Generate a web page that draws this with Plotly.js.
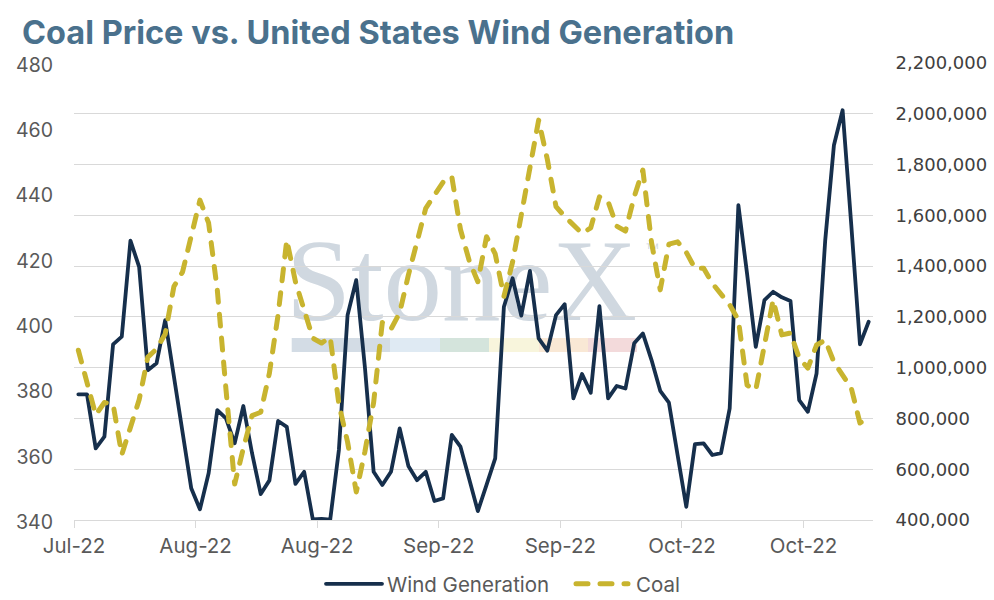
<!DOCTYPE html>
<html><head><meta charset="utf-8">
<script src="https://cdn.plot.ly/plotly-3.0.1.min.js"></script>
<style>
html,body{margin:0;padding:0;background:#fff;}
#chart{width:994px;height:600px;}
.js-line{stroke-linecap:round;stroke-linejoin:round;}
</style></head><body><div id="chart"></div>
<script>
// Daily categories, 25 Jul 2022 onward (92 days)
const startDate = '2022-07-25';
const dayCount = 92;
const dates = [];
for (let i = 0; i < dayCount; i++) {
  const d = new Date(startDate + 'T00:00:00Z');
  d.setUTCDate(d.getUTCDate() + i);
  dates.push(d.toISOString().slice(0, 10));
}

// Wind generation (right axis)
const windGeneration = [
  895000, 895000, 682000, 728000, 1092000, 1122000, 1500000, 1397000, 990000, 1017000,
  1187000, 971000, 754000, 525000, 442000, 584000, 833000, 800000, 702000, 849000,
  663000, 502000, 556000, 790000, 767000, 542000, 590000, 402000, 404000, 401000,
  676000, 1207000, 1345000, 1000000, 590000, 538000, 590000, 761000, 613000, 557000,
  590000, 475000, 485000, 735000, 689000, 557000, 435000, 538000, 643000, 1240000,
  1352000, 1205000, 1381000, 1115000, 1067000, 1207000, 1250000, 879000, 975000, 901000,
  1242000, 879000, 928000, 918000, 1096000, 1135000, 1030000, 909000, 862000, 656000,
  452000, 699000, 702000, 656000, 663000, 840000, 1640000, 1370000, 1082000, 1266000,
  1299000, 1277000, 1263000, 872000, 826000, 977000, 1502000, 1876000, 2014000, 1561000,
  1092000, 1181000
];

// Coal price (left axis)
const coalPrice = [
  392, 382, 372.2, 376, 375.5, 360, 369, 376.8, 389.9, 392.4,
  397, 411.5, 416, 426.5, 438, 431, 410.5, 380, 351, 362,
  372, 373, 385, 402.8, 425.8, 413, 403.7, 395.7, 394.2, 396,
  375.5, 363.9, 348.6, 361, 376, 400.5, 398.5, 403.5, 415, 425,
  435.5, 439.5, 443.5, 445.2, 429, 419.5, 413, 426.8, 421.5, 408.5,
  419, 433.4, 447, 462.5, 450.5, 436, 433, 430.5, 427.8, 429.5,
  439, 437.5, 430, 428.5, 439, 447.2, 425, 410.5, 424.5, 425.2,
  422, 417.1, 417.1, 412.5, 409, 405.9, 401.3, 381.3, 379.8, 394.2,
  407.4, 396.7, 397.3, 389.6, 386.5, 393.6, 395.1, 388.4, 384.4, 380.4,
  369.7, 371.5
];

// Axis tick labels (one every 14 categories)
const tickLabels = ['Jul-22', 'Aug-22', 'Aug-22', 'Sep-22', 'Sep-22', 'Oct-22', 'Oct-22'];
const tickEvery = 14;

const xIdx = dates.map((_, i) => i);
const tickVals = tickLabels.map((_, i) => i * tickEvery - 0.5);

const mainFont = 'Inter, Lato, sans-serif';
const leftTickFont = {family: mainFont, size: 19.5, color: '#595959'};
const xTickFont = {family: mainFont, size: 20.5, color: '#595959'};
const rightTickFont = {family: 'DejaVu Sans, Verdana, sans-serif', size: 18, color: '#404040'};
const gridCol = '#d9d9d9';

const traces = [
  {
    x: xIdx, y: windGeneration, text: dates, name: 'Wind Generation',
    type: 'scatter', mode: 'lines', yaxis: 'y',
    line: {color: '#162f4c', width: 3.8},
    hovertemplate: '%{text}: %{y:,}<extra></extra>'
  },
  {
    x: xIdx, y: coalPrice, text: dates, name: 'Coal',
    type: 'scatter', mode: 'lines', yaxis: 'y2',
    line: {color: '#c8b42f', width: 5, dash: '12px,12px'},
    hovertemplate: '%{text}: %{y}<extra></extra>'
  }
];

function px2paperX(px) { return (px - 74) / 799; }
function px2paperY(py) { return (520 - py) / 457; }

// StoneX watermark (drawn beneath gridlines and data)
const barEdges = [291.7, 390, 440, 489, 539, 588, 637];
const barColors = ['#d3dce5', '#dfeaf3', '#d4e4dc', '#f8f5dc', '#f9e8d5', '#f3dadb'];
const shapes = barColors.map((c, i) => ({
  type: 'rect', xref: 'paper', yref: 'paper', layer: 'below',
  x0: px2paperX(barEdges[i]), x1: px2paperX(barEdges[i + 1]),
  y0: px2paperY(352), y1: px2paperY(338),
  fillcolor: c, line: {width: 0}
}));
shapes.push({
  type: 'rect', xref: 'paper', yref: 'paper', layer: 'below',
  x0: px2paperX(279), x1: px2paperX(644), y0: px2paperY(313), y1: px2paperY(221),
  fillcolor: 'rgba(0,0,0,0)', line: {width: 0},
  label: {text: 'StoneX', textposition: 'middle center',
    font: {family: 'Liberation Serif, serif', size: 117, color: '#d0d8e0'}}
});
shapes.push({
  type: 'rect', xref: 'paper', yref: 'paper', layer: 'below',
  x0: px2paperX(641), x1: px2paperX(663), y0: px2paperY(254), y1: px2paperY(240),
  fillcolor: 'rgba(0,0,0,0)', line: {width: 0},
  label: {text: '™', textposition: 'middle center',
    font: {family: 'Liberation Sans, sans-serif', size: 14, color: '#d0d8e0'}}
});

const layout = {
  width: 994, height: 600,
  paper_bgcolor: '#ffffff', plot_bgcolor: '#ffffff',
  margin: {l: 74, r: 121, t: 63, b: 80, pad: 0},
  title: {
    text: '<b>Coal Price vs. United States Wind Generation</b>',
    x: 22 / 994, xanchor: 'left', xref: 'container',
    y: 1 - 32.3 / 600, yanchor: 'middle', yref: 'container',
    font: {family: mainFont, size: 32.5, color: '#4a718d'}
  },
  showlegend: true,
  legend: {
    orientation: 'h', xref: 'container', yref: 'container',
    x: 503 / 994, xanchor: 'center', y: 1 - 584 / 600, yanchor: 'middle',
    font: {family: mainFont, size: 20.5, color: '#595959'},
    bgcolor: 'rgba(0,0,0,0)', itemwidth: 30, tracegroupgap: 0
  },
  xaxis: {
    range: [-0.5, dayCount - 0.5], tickmode: 'array', tickvals: tickVals, ticktext: tickLabels,
    ticks: 'outside', ticklen: 7, tickcolor: gridCol, tickwidth: 1.3,
    ticklabelstandoff: 2.5, ticklabelshift: 3.5,
    showgrid: false, zeroline: false, showline: true, linecolor: gridCol, linewidth: 1.3,
    tickfont: xTickFont, fixedrange: true
  },
  yaxis: {
    side: 'right', range: [400000, 2200000], dtick: 200000, tick0: 400000,
    tickformat: ',', showgrid: true, gridcolor: gridCol, gridwidth: 1.3,
    zeroline: false, showline: false, ticks: 'outside', ticklen: 18, tickcolor: 'rgba(0,0,0,0)',
    ticklabelshift: 1.5,
    tickfont: rightTickFont, fixedrange: true
  },
  yaxis2: {
    overlaying: 'y', side: 'left', range: [340, 480], dtick: 20, tick0: 340,
    showgrid: false, zeroline: false, showline: false, ticks: '', ticklabelstandoff: 20,
    ticklabelshift: 2,
    tickfont: leftTickFont, fixedrange: true
  },
  shapes: shapes,
  hovermode: 'closest'
};

// Legend entry geometry (page px): line sample length, gap to text, text left edge
const legendTargets = [
  {sampleLen: 56, gap: 5, textLeft: 387},
  {sampleLen: 52, gap: 8, textLeft: 636}
];

Plotly.newPlot('chart', traces, layout, {displayModeBar: false, responsive: false}).then(gd => {
  gd.querySelectorAll('.legend [clip-path]').forEach(el => el.removeAttribute('clip-path'));
  const hostRect = gd.getBoundingClientRect();
  gd.querySelectorAll('.legend .traces').forEach((g, i) => {
    const t = legendTargets[i];
    if (!t) return;
    const line = g.querySelector('.legendlines path');
    if (line) {
      const end = 40 - t.gap;
      line.setAttribute('d', 'M' + (end - t.sampleLen) + ',0h' + t.sampleLen);
    }
    const txt = g.querySelector('.legendtext');
    if (!txt) return;
    const curLeft = txt.getBoundingClientRect().left - hostRect.left;
    const tr = g.getAttribute('transform') || '';
    const m = tr.match(/translate\(\s*([-\d.]+)[ ,]+([-\d.]+)\s*\)/);
    const tx = m ? parseFloat(m[1]) : 0, ty = m ? parseFloat(m[2]) : 0;
    g.setAttribute('transform', 'translate(' + (tx + t.textLeft - curLeft) + ',' + ty + ')');
  });
});
</script></body></html>
